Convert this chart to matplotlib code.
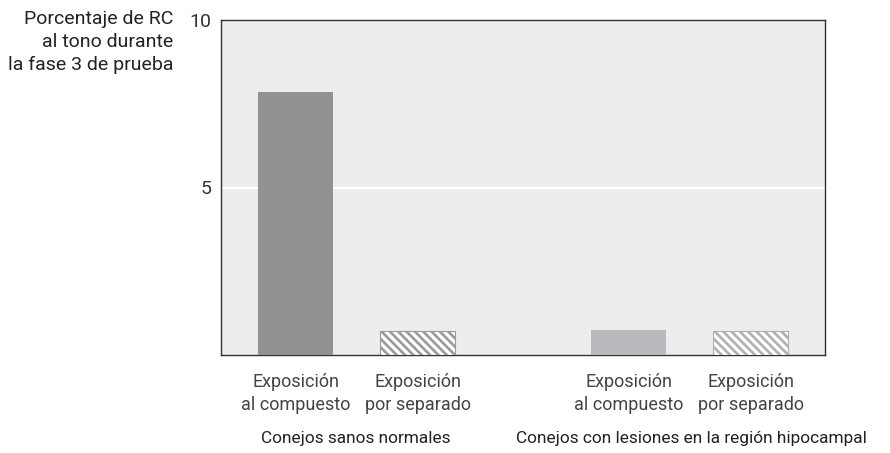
import matplotlib.pyplot as plt

# data
groups = ["Conejos sanos normales", "Conejos con lesiones en la región hipocampal"]
conditions = ["Exposición\nal compuesto", "Exposición\npor separado"]
values = [7.85, 0.72, 0.75, 0.72]
positions = [0, 1, 2.733, 3.733]
yticks = [5, 10]

plt.rcParams['hatch.linewidth'] = 1.9
plt.rcParams['font.family'] = ['Roboto', 'DejaVu Sans']

fig = plt.figure(figsize=(8.9, 4.53), dpi=100)
ax = fig.add_axes([221 / 890, 1 - 355 / 453, 604 / 890, 335 / 453])
ax.set_facecolor('#ededed')

bar_w = 0.615
styles = [
    dict(color='#929295'),
    dict(facecolor='white', edgecolor='#9a9a9d', hatch='\\\\\\\\', linewidth=0.8),
    dict(color='#b9babd'),
    dict(facecolor='white', edgecolor='#b0b0b3', hatch='\\\\\\\\', linewidth=0.8),
]
for x, v, st in zip(positions, values, styles):
    ax.bar(x, v, width=bar_w, zorder=3, **st)

ax.set_xlim(-0.611, 4.34)
ax.set_ylim(0, 10)
ax.axhline(5, color='white', lw=1.5, zorder=1)

ax.set_yticks(yticks)
ax.set_yticklabels([str(t) for t in yticks], fontsize=14, color='#333333')
ax.tick_params(axis='y', length=0, pad=7)
ax.set_xticks(positions)
ax.set_xticklabels(conditions * 2, fontsize=13, color='#444444', linespacing=1.35)
ax.tick_params(axis='x', length=0, pad=13)

for sp in ax.spines.values():
    sp.set_color('#333333')
    sp.set_linewidth(1.0)

fig.text(173 / 890, 1 - 10 / 453, "Porcentaje de RC\nal tono durante\nla fase 3 de prueba",
         ha='right', va='top', fontsize=14, color='#222222', linespacing=1.35)

for cx, g in zip([356, 691], groups):
    fig.text(cx / 890, 1 - 439 / 453, g, ha='center', va='center', fontsize=12.4,
             color='#222222')

fig.savefig('out.png', dpi=100)
